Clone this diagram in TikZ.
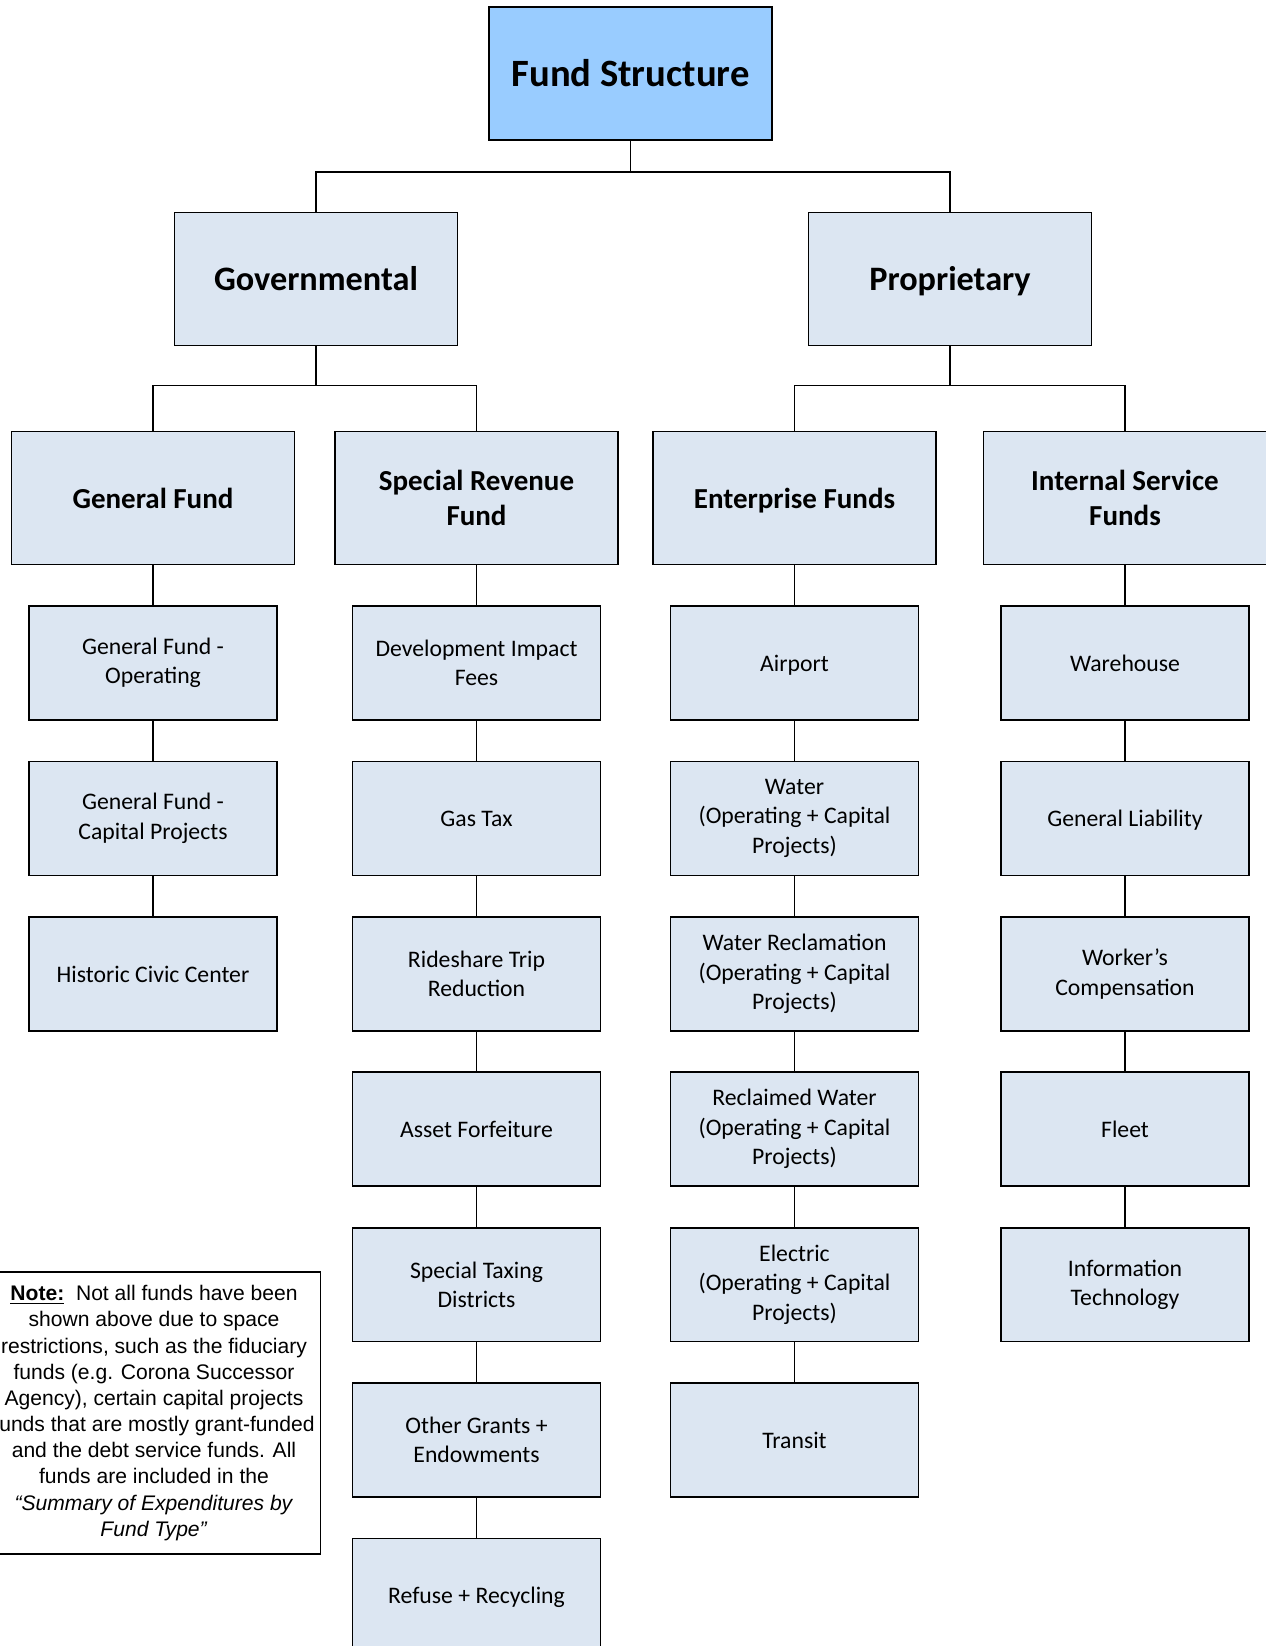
\documentclass[tikz,border=0pt]{standalone}
\usepackage{fontspec}
\setmainfont{Carlito}
\newfontfamily\notefont{Liberation Sans}
\usepackage{tikz}
\usetikzlibrary{calc}
\definecolor{topblue}{HTML}{99CCFF}
\definecolor{boxgray}{HTML}{DCE6F2}
\tikzset{
    topbox/.style = {draw, rectangle, fill=topblue, line width=1pt,
        minimum width=5.66cm, minimum height=2.66cm,
        font=\fontsize{22}{26}\selectfont\bfseries},
    headbox/.style = {draw, rectangle, fill=boxgray, line width=1pt,
        minimum width=5.66cm, minimum height=2.66cm,
        font=\fontsize{19.5}{23}\selectfont\bfseries},
    groupbox/.style = {draw, rectangle, fill=boxgray, line width=1pt,
        minimum width=5.66cm, minimum height=2.66cm, align=center,
        font=\fontsize{16.5}{20.2}\selectfont\bfseries},
    fundbox/.style = {draw, rectangle, fill=boxgray, line width=1pt,
        minimum width=4.96cm, minimum height=2.28cm, align=center,
        font=\fontsize{13.5}{16.8}\selectfont},
    oneline/.style = {text height=#1, text depth=0pt},
    link/.style = {draw, line width=0.8pt}
}

\begin{document}
\begin{tikzpicture}[x=0.02cm,y=-0.02cm]
    \useasboundingbox (0,0) rectangle (1265,1646);
    % top and first level
    \node[topbox, oneline=15.3pt] (top) at (630.5,73.5) {Fund Structure};
    \node[headbox, oneline=13.6pt] (gov) at (316,279) {Governmental};
    \node[headbox, oneline=13.6pt] (prop) at (950,279) {Proprietary};
    \draw[link] (top.south) -- ++(0,31) -| (gov.north);
    \draw[link] (top.south) -- ++(0,31) -| (prop.north);
    % second level
    \node[groupbox, oneline=11.5pt] (genfund) at (153,498) {General Fund};
    \node[groupbox] (specrev) at (476.5,498) {Special Revenue\\Fund};
    \node[groupbox, oneline=11.5pt] (enterp) at (794.5,498) {Enterprise Funds};
    \node[groupbox] (intserv) at (1125,498) {Internal Service\\Funds};
    \draw[link] (gov.south) -- ++(0,39) -| (genfund.north);
    \draw[link] (gov.south) -- ++(0,39) -| (specrev.north);
    \draw[link] (prop.south) -- ++(0,39) -| (enterp.north);
    \draw[link] (prop.south) -- ++(0,39) -| (intserv.north);
    % general fund
    \node[fundbox] (gf1) at (153,663) {General Fund -\\Operating};
    \node[fundbox] (gf2) at (153,818.4) {General Fund -\\Capital Projects};
    \node[fundbox, oneline=9.4pt] (gf3) at (153,973.8) {Historic Civic Center};
    \draw[link] (genfund.south) -- (gf1.north);
    \draw[link] (gf1.south) -- (gf2.north);
    \draw[link] (gf2.south) -- (gf3.north);
    % special revenue
    \node[fundbox] (sr1) at (476.5,663) {Development Impact\\Fees};
    \node[fundbox, oneline=9.4pt] (sr2) at (476.5,818.4) {Gas Tax};
    \node[fundbox] (sr3) at (476.5,973.8) {Rideshare Trip\\Reduction};
    \node[fundbox, oneline=9.4pt] (sr4) at (476.5,1129.2) {Asset Forfeiture};
    \node[fundbox] (sr5) at (476.5,1284.6) {Special Taxing\\Districts};
    \node[fundbox] (sr6) at (476.5,1440) {Other Grants +\\Endowments};
    \node[fundbox, oneline=9.4pt] (sr7) at (476.5,1595.4) {Refuse + Recycling};
    \draw[link] (specrev.south) -- (sr1.north);
    \draw[link] (sr1.south) -- (sr2.north);
    \draw[link] (sr2.south) -- (sr3.north);
    \draw[link] (sr3.south) -- (sr4.north);
    \draw[link] (sr4.south) -- (sr5.north);
    \draw[link] (sr5.south) -- (sr6.north);
    \draw[link] (sr6.south) -- (sr7.north);
    % enterprise
    \node[fundbox, oneline=9.4pt] (ef1) at (794.5,663) {Airport};
    \node[fundbox] (ef2) at (794.5,818.4) {Water\\(Operating + Capital\\Projects)};
    \node[fundbox] (ef3) at (794.5,973.8) {Water Reclamation\\(Operating + Capital\\Projects)};
    \node[fundbox] (ef4) at (794.5,1129.2) {Reclaimed Water\\(Operating + Capital\\Projects)};
    \node[fundbox] (ef5) at (794.5,1284.6) {Electric\\(Operating + Capital\\Projects)};
    \node[fundbox, oneline=9.4pt] (ef6) at (794.5,1440) {Transit};
    \draw[link] (enterp.south) -- (ef1.north);
    \draw[link] (ef1.south) -- (ef2.north);
    \draw[link] (ef2.south) -- (ef3.north);
    \draw[link] (ef3.south) -- (ef4.north);
    \draw[link] (ef4.south) -- (ef5.north);
    \draw[link] (ef5.south) -- (ef6.north);
    % internal service
    \node[fundbox, oneline=9.4pt] (is1) at (1125,663) {Warehouse};
    \node[fundbox, oneline=9.4pt] (is2) at (1125,818.4) {General Liability};
    \node[fundbox] (is3) at (1125,973.8) {Worker’s\\Compensation};
    \node[fundbox, oneline=9.4pt] (is4) at (1125,1129.2) {Fleet};
    \node[fundbox] (is5) at (1125,1284.6) {Information\\Technology};
    \draw[link] (intserv.south) -- (is1.north);
    \draw[link] (is1.south) -- (is2.north);
    \draw[link] (is2.south) -- (is3.north);
    \draw[link] (is3.south) -- (is4.north);
    \draw[link] (is4.south) -- (is5.north);
    % note
    \node[draw, line width=0.8pt, fill=white, minimum width=6.4cm, minimum height=5.64cm,
        align=center, font=\notefont\fontsize{12}{14.9}\selectfont] (note) at (154,1413)
        {\textbf{\underline{Note:}}\ \ Not all funds have been\\
         shown above due to space\\
         restrictions, such as the fiduciary\\
         funds (e.g. Corona Successor\\
         Agency), certain capital projects\\
         funds that are mostly grant-funded\\
         and the debt service funds. All\\
         funds are included in the\\
         \textit{“Summary of Expenditures by}\\
         \textit{Fund Type”}};
\end{tikzpicture}
\end{document}
